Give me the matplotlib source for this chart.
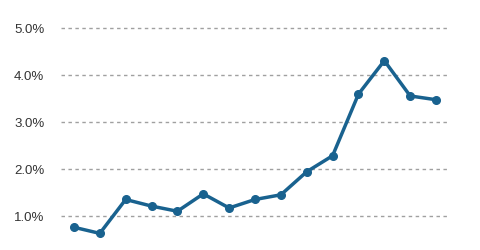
import matplotlib
matplotlib.use("Agg")
import matplotlib.pyplot as plt
from matplotlib.ticker import FuncFormatter

# datos (porcentaje)
periodos = list(range(15))
valores = [0.76, 0.63, 1.35, 1.21, 1.10, 1.47, 1.17, 1.35, 1.45, 1.94, 2.28, 3.59, 4.30, 3.55, 3.47]
ticks_y = [1.0, 2.0, 3.0, 4.0, 5.0]

W, H = 480, 251
fig = plt.figure(figsize=(W / 100, H / 100), dpi=100)
ax = fig.add_axes([61 / W, (H - 240.5) / H, (449 - 61) / W, (240.5 - 5.2) / H])

# lineas de rejilla discontinuas
for t in ticks_y:
    ax.axhline(t, color="#a0a0a0", linestyle=(0, (2.5, 2.5)), linewidth=1.0, zorder=1)

ax.plot(periodos, valores, color="#19628f", linewidth=2.5, marker="o",
        markersize=5.5, zorder=3, solid_joinstyle="round")

ax.set_xlim(-0.5, 14.5)
ax.set_ylim(0.5, 5.5)
ax.set_yticks(ticks_y)
ax.yaxis.set_major_formatter(FuncFormatter(lambda v, p: "%.1f%%" % v))
ax.set_xticks([])
ax.tick_params(axis="y", length=0, pad=12, labelcolor="#333333")
for lab in ax.get_yticklabels():
    lab.set_fontfamily("Liberation Sans")
    lab.set_fontsize(9.5)
for s in ax.spines.values():
    s.set_visible(False)

fig.savefig("out.png", dpi=100)
